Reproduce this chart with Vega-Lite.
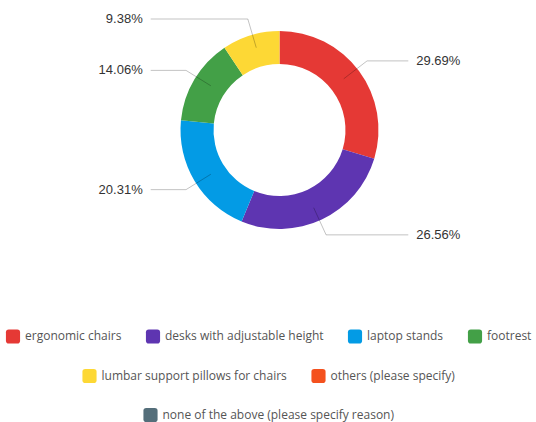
{
  "$schema": "https://vega.github.io/schema/vega-lite/v6.json",
  "width": 536,
  "height": 260,
  "padding": 0,
  "background": "white",
  "data": {
    "values": [
      {"item": "ergonomic chairs", "share": 0.2969, "rank": 1},
      {"item": "desks with adjustable height", "share": 0.2656, "rank": 2},
      {"item": "laptop stands", "share": 0.2031, "rank": 3},
      {"item": "footrest", "share": 0.1406, "rank": 4},
      {"item": "lumbar support pillows for chairs", "share": 0.0938, "rank": 5},
      {"item": "others (please specify)", "share": 0, "rank": 6},
      {"item": "none of the above (please specify reason)", "share": 0, "rank": 7}
    ]
  },
  "layer": [
    {
      "mark": {"type": "arc", "radius": 99, "innerRadius": 66},
      "encoding": {
        "theta": {"field": "share", "type": "quantitative", "stack": true},
        "order": {"field": "rank", "type": "quantitative"},
        "x": {"datum": 0, "type": "quantitative", "scale": {"domain": [-279.5, 256.5], "nice": false, "zero": false}, "axis": null},
        "y": {"datum": 0, "type": "quantitative", "scale": {"domain": [-130, 130], "nice": false, "zero": false}, "axis": null},
        "color": {
          "field": "item", "type": "nominal",
          "scale": {
            "domain": ["ergonomic chairs", "desks with adjustable height", "laptop stands", "footrest", "lumbar support pillows for chairs", "others (please specify)", "none of the above (please specify reason)"],
            "range": ["#E53935", "#5E35B1", "#039BE5", "#43A047", "#FDD835", "#F4511E", "#546E7A"]
          },
          "legend": {
            "values": ["ergonomic chairs", "desks with adjustable height", "laptop stands", "footrest"],
            "symbolType": "M-0.6,-1H0.6Q1,-1 1,-0.6V0.6Q1,1 0.6,1H-0.6Q-1,1 -1,0.6V-0.6Q-1,-1 -0.6,-1Z"
          }
        }
      }
    },
    {
      "mark": {"type": "text", "text": ""},
      "encoding": {
        "x": {"datum": 0, "type": "quantitative", "scale": {"domain": [-279.5, 256.5], "nice": false, "zero": false}, "axis": null},
        "y": {"datum": 0, "type": "quantitative", "scale": {"domain": [-130, 130], "nice": false, "zero": false}, "axis": null},
        "color": {
          "field": "item", "type": "nominal",
          "scale": {
            "domain": ["ergonomic chairs", "desks with adjustable height", "laptop stands", "footrest", "lumbar support pillows for chairs", "others (please specify)", "none of the above (please specify reason)"],
            "range": ["#E53935", "#5E35B1", "#039BE5", "#43A047", "#FDD835", "#F4511E", "#546E7A"]
          },
          "legend": {
            "values": ["lumbar support pillows for chairs", "others (please specify)"],
            "symbolType": "M-0.6,-1H0.6Q1,-1 1,-0.6V0.6Q1,1 0.6,1H-0.6Q-1,1 -1,0.6V-0.6Q-1,-1 -0.6,-1Z"
          }
        }
      }
    },
    {
      "mark": {"type": "text", "text": ""},
      "encoding": {
        "x": {"datum": 0, "type": "quantitative", "scale": {"domain": [-279.5, 256.5], "nice": false, "zero": false}, "axis": null},
        "y": {"datum": 0, "type": "quantitative", "scale": {"domain": [-130, 130], "nice": false, "zero": false}, "axis": null},
        "color": {
          "field": "item", "type": "nominal",
          "scale": {
            "domain": ["ergonomic chairs", "desks with adjustable height", "laptop stands", "footrest", "lumbar support pillows for chairs", "others (please specify)", "none of the above (please specify reason)"],
            "range": ["#E53935", "#5E35B1", "#039BE5", "#43A047", "#FDD835", "#F4511E", "#546E7A"]
          },
          "legend": {
            "values": ["none of the above (please specify reason)"],
            "symbolType": "M-0.6,-1H0.6Q1,-1 1,-0.6V0.6Q1,1 0.6,1H-0.6Q-1,1 -1,0.6V-0.6Q-1,-1 -0.6,-1Z"
          }
        }
      }
    },
    {
      "transform": [
        {"window": [{"op": "sum", "field": "share", "as": "cum"}], "sort": [{"field": "rank"}], "frame": [null, 0]},
        {"joinaggregate": [{"op": "sum", "field": "share", "as": "total"}]},
        {"filter": "datum.share > 0"},
        {"calculate": "2 * PI * (datum.cum - datum.share / 2) / datum.total", "as": "mid"},
        {"calculate": "80 * sin(datum.mid)", "as": "ix"},
        {"calculate": "86 * cos(datum.mid)", "as": "iy"},
        {"calculate": "109 * sin(datum.mid)", "as": "ex"},
        {"calculate": "116 * cos(datum.mid)", "as": "ey"},
        {"calculate": "sin(datum.mid) >= 0 ? 1 : -1", "as": "side"},
        {"calculate": "datum.side * 128.8", "as": "lx"},
        {"calculate": "datum.side * 136.8", "as": "tx"}
      ],
      "layer": [
        {
          "mark": {"type": "rule", "stroke": "#000000", "strokeOpacity": 0.24, "strokeWidth": 1},
          "encoding": {
            "x": {"field": "ix", "type": "quantitative", "scale": {"domain": [-279.5, 256.5], "nice": false, "zero": false}, "axis": null},
            "y": {"field": "iy", "type": "quantitative", "scale": {"domain": [-130, 130], "nice": false, "zero": false}, "axis": null},
            "x2": {"field": "ex"},
            "y2": {"field": "ey"}
          }
        },
        {
          "mark": {"type": "rule", "stroke": "#000000", "strokeOpacity": 0.24, "strokeWidth": 1},
          "encoding": {
            "x": {"field": "ex", "type": "quantitative", "scale": {"domain": [-279.5, 256.5], "nice": false, "zero": false}, "axis": null},
            "y": {"field": "ey", "type": "quantitative", "scale": {"domain": [-130, 130], "nice": false, "zero": false}, "axis": null},
            "x2": {"field": "lx"}
          }
        },
        {
          "transform": [{"filter": "datum.side > 0"}],
          "mark": {"type": "text", "align": "left", "baseline": "middle", "font": "Liberation Sans", "fontSize": 13, "fill": "#333333"},
          "encoding": {
            "x": {"field": "tx", "type": "quantitative", "scale": {"domain": [-279.5, 256.5], "nice": false, "zero": false}, "axis": null},
            "y": {"field": "ey", "type": "quantitative", "scale": {"domain": [-130, 130], "nice": false, "zero": false}, "axis": null},
            "text": {"field": "share", "type": "quantitative", "format": ".2%"}
          }
        },
        {
          "transform": [{"filter": "datum.side < 0"}],
          "mark": {"type": "text", "align": "right", "baseline": "middle", "font": "Liberation Sans", "fontSize": 13, "fill": "#333333"},
          "encoding": {
            "x": {"field": "tx", "type": "quantitative", "scale": {"domain": [-279.5, 256.5], "nice": false, "zero": false}, "axis": null},
            "y": {"field": "ey", "type": "quantitative", "scale": {"domain": [-130, 130], "nice": false, "zero": false}, "axis": null},
            "text": {"field": "share", "type": "quantitative", "format": ".2%"}
          }
        }
      ]
    }
  ],
  "resolve": {"scale": {"color": "independent"}, "legend": {"color": "independent"}},
  "config": {
    "view": {"stroke": null},
    "legend": {
      "orient": "bottom",
      "direction": "horizontal",
      "title": null,
      "symbolSize": 200,
      "labelFont": "Open Sans",
      "labelFontSize": 12,
      "labelColor": "#555555",
      "labelOffset": 4,
      "labelLimit": 400,
      "columnPadding": 23,
      "offset": 68,
      "layout": {"bottom": {"anchor": "middle", "direction": "vertical", "center": true, "margin": 23.5, "offset": 68}}
    }
  }
}
